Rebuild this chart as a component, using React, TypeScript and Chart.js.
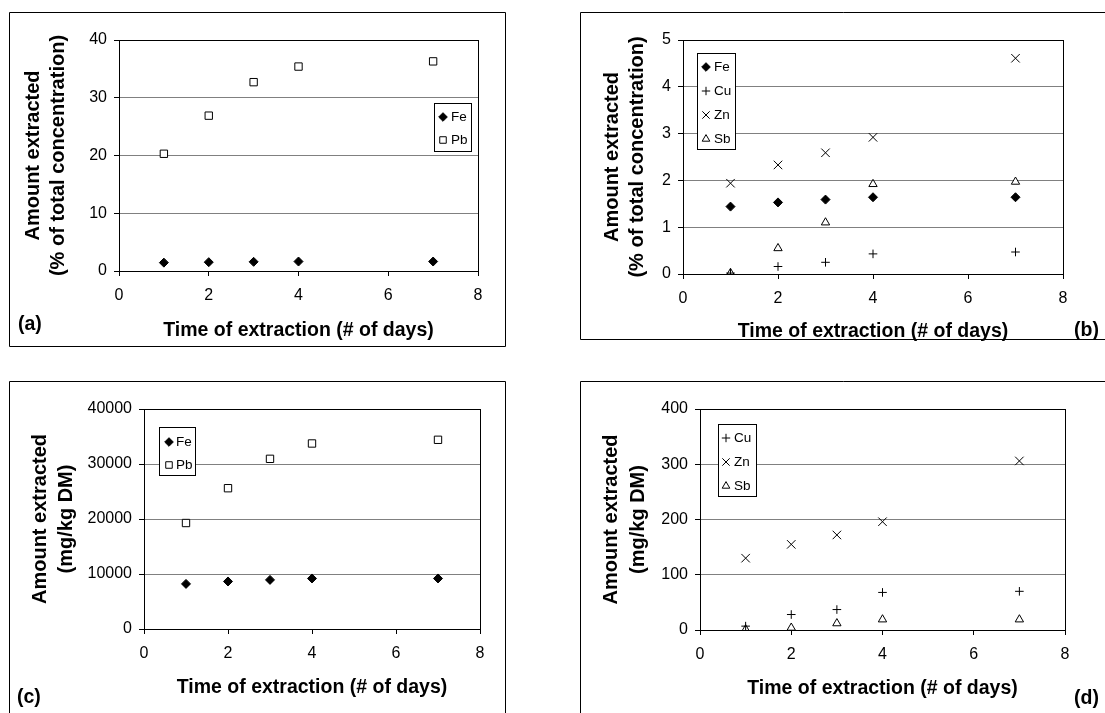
import React, { useEffect, useRef } from 'react';
import { Chart, registerables } from 'chart.js';
import { drawPoint } from 'chart.js/helpers';

Chart.register(...registerables);

const FONT = "'Liberation Sans', Arial, sans-serif";

// ---- data ----
const days = [1, 2, 3, 4, 7];
const xAxisMax = 8;
const xStep = 2;

const aFe = [1.45, 1.53, 1.59, 1.64, 1.64];
const aPb = [20.3, 26.9, 32.7, 35.4, 36.3];

const bFe = [1.44, 1.53, 1.59, 1.64, 1.64];
const bCu = [0.02, 0.16, 0.25, 0.43, 0.47];
const bZn = [1.94, 2.33, 2.59, 2.92, 4.61];
const bSb = [0.02, 0.55, 1.1, 1.92, 1.97];

const cFe = [8200, 8640, 8930, 9190, 9190];
const cPb = [19270, 25600, 30940, 33730, 34400];

const dCu = [7, 28, 37, 68, 70];
const dZn = [130, 155, 172, 196, 306];
const dSb = [1, 4, 12, 19, 19];

const yTitleA = ['Amount extracted', '(% of total concentration)'];
const yTitleC = ['Amount extracted', '(mg/kg DM)'];
const xTitle = 'Time of extraction (# of days)';

// marker styles
const STYLE: Record<string, any> = {
  Fe: { pointStyle: 'rectRot', radius: 4.5, legendRadius: 4.3, fill: '#000' },
  Pb: { pointStyle: 'rect', radius: 5.2, legendRadius: 4.6, fill: '#fff' },
  Cu: { pointStyle: 'cross', radius: 4.3, legendRadius: 4.2, fill: '#000' },
  Zn: { pointStyle: 'crossRot', radius: 6, legendRadius: 5.2, fill: '#000' },
  Sb: { pointStyle: 'triangle', radius: 4.8, legendRadius: 4.4, fill: '#fff' },
};

type Series = { label: string; values: number[] };

type Panel = {
  left: number; top: number; width: number; height: number;
  plot: { l: number; r: number; t: number; b: number };
  yMax: number; yStep: number;
  yTitle: string[]; yTitlePad: number; yTitleLH: number;
  xTitlePad: number;
  series: Series[];
  legend: { x: number; y: number; w: number; h: number; markerX: number; textX: number; itemsY: number[] };
  frame: { l: number; t: number; r: number; b: number; sides: string };
  tag: { text: string; x: number; y: number };
};

const panels: Panel[] = [
  {
    left: 0, top: 0, width: 560, height: 356,
    plot: { l: 119, r: 478, t: 40, b: 271 },
    yMax: 40, yStep: 10,
    yTitle: yTitleA, yTitlePad: 21.5, yTitleLH: 1.22,
    xTitlePad: 14,
    series: [{ label: 'Fe', values: aFe }, { label: 'Pb', values: aPb }],
    legend: { x: 434.5, y: 103.5, w: 37, h: 48, markerX: 443, textX: 451, itemsY: [117, 140] },
    frame: { l: 9.5, t: 12.5, r: 505.5, b: 346.5, sides: 'tlbr' },
    tag: { text: '(a)', x: 18, y: 325 },
  },
  {
    left: 560, top: 0, width: 545, height: 356,
    plot: { l: 123, r: 503, t: 40, b: 274 },
    yMax: 5, yStep: 1,
    yTitle: yTitleA, yTitlePad: 39.5, yTitleLH: 1.25,
    xTitlePad: 13,
    series: [
      { label: 'Fe', values: bFe },
      { label: 'Cu', values: bCu },
      { label: 'Zn', values: bZn },
      { label: 'Sb', values: bSb },
    ],
    legend: { x: 137.5, y: 53.5, w: 38, h: 96, markerX: 146, textX: 154, itemsY: [67, 91, 115, 139] },
    frame: { l: 20.5, t: 12.5, r: 600, b: 339.5, sides: 'tlb' },
    tag: { text: '(b)', x: 514, y: 331 },
  },
  {
    left: 0, top: 356, width: 560, height: 357,
    plot: { l: 144, r: 480, t: 53, b: 273 },
    yMax: 40000, yStep: 10000,
    yTitle: yTitleC, yTitlePad: 27, yTitleLH: 1.33,
    xTitlePad: 14,
    series: [{ label: 'Fe', values: cFe }, { label: 'Pb', values: cPb }],
    legend: { x: 159.5, y: 71.5, w: 36, h: 48, markerX: 169, textX: 176, itemsY: [86, 109] },
    frame: { l: 9.5, t: 25.5, r: 505.5, b: 400, sides: 'tlr' },
    tag: { text: '(c)', x: 17, y: 342 },
  },
  {
    left: 560, top: 356, width: 545, height: 357,
    plot: { l: 140, r: 505, t: 53, b: 274 },
    yMax: 400, yStep: 100,
    yTitle: yTitleC, yTitlePad: 38.5, yTitleLH: 1.33,
    xTitlePad: 12.5,
    series: [
      { label: 'Cu', values: dCu },
      { label: 'Zn', values: dZn },
      { label: 'Sb', values: dSb },
    ],
    legend: { x: 158.5, y: 68.5, w: 38, h: 72, markerX: 166, textX: 174, itemsY: [82, 106, 130] },
    frame: { l: 20.5, t: 25.5, r: 600, b: 400, sides: 'tl' },
    tag: { text: '(d)', x: 514, y: 343 },
  },
];

function makeDecor(p: Panel) {
  return {
    id: 'decor',
    afterDraw(chart: any) {
      const ctx = chart.ctx as CanvasRenderingContext2D;
      ctx.save();
      // outer frame
      ctx.strokeStyle = '#000';
      ctx.lineWidth = 1;
      const f = p.frame;
      ctx.beginPath();
      if (f.sides.includes('t')) { ctx.moveTo(f.l, f.t); ctx.lineTo(f.r, f.t); }
      if (f.sides.includes('l')) { ctx.moveTo(f.l, f.t); ctx.lineTo(f.l, f.b); }
      if (f.sides.includes('b')) { ctx.moveTo(f.l, f.b); ctx.lineTo(f.r, f.b); }
      if (f.sides.includes('r')) { ctx.moveTo(f.r, f.t); ctx.lineTo(f.r, f.b); }
      ctx.stroke();

      // legend
      const L = p.legend;
      ctx.fillStyle = '#fff';
      ctx.fillRect(L.x, L.y, L.w, L.h);
      ctx.strokeStyle = '#000';
      ctx.strokeRect(L.x, L.y, L.w, L.h);
      chart.data.datasets.forEach((ds: any, i: number) => {
        const st = STYLE[ds.label];
        const y = L.itemsY[i];
        ctx.fillStyle = st.fill;
        ctx.strokeStyle = '#000';
        ctx.lineWidth = 1;
        drawPoint(ctx, { pointStyle: st.pointStyle, radius: st.legendRadius, rotation: 0, borderWidth: 1 } as any, L.markerX, y);
        ctx.fillStyle = '#000';
        ctx.font = `13.5px ${FONT}`;
        ctx.textAlign = 'left';
        ctx.textBaseline = 'middle';
        ctx.fillText(ds.label, L.textX, y + 0.5);
      });

      // panel tag
      ctx.fillStyle = '#000';
      ctx.font = `bold 19.5px ${FONT}`;
      ctx.textAlign = 'left';
      ctx.textBaseline = 'middle';
      ctx.fillText(p.tag.text, p.tag.x, p.tag.y);
      ctx.restore();
    },
  };
}

function PanelChart({ p }: { p: Panel }) {
  const ref = useRef<HTMLCanvasElement | null>(null);
  useEffect(() => {
    if (!ref.current) return;
    const yWidth = p.plot.l;
    const xHeight = p.height - p.plot.b;
    const chart = new Chart(ref.current, {
      type: 'scatter',
      data: {
        datasets: p.series.map((s) => {
          const st = STYLE[s.label];
          return {
            label: s.label,
            data: days.map((d, i) => ({ x: d, y: s.values[i] })),
            pointStyle: st.pointStyle,
            pointRadius: st.radius,
            pointHoverRadius: st.radius,
            pointBackgroundColor: st.fill,
            pointBorderColor: '#000',
            pointBorderWidth: 1,
            showLine: false,
          };
        }),
      },
      options: {
        animation: false,
        responsive: false,
        maintainAspectRatio: false,
        devicePixelRatio: 1,
        layout: { padding: { left: 0, top: p.plot.t, right: p.width - p.plot.r, bottom: 0 } },
        plugins: { legend: { display: false }, tooltip: { enabled: false } },
        scales: {
          x: {
            type: 'linear',
            min: 0,
            max: xAxisMax,
            ticks: { stepSize: xStep, padding: 10, color: '#000', font: { family: FONT, size: 16 } },
            grid: {
              color: (c: any) => (c.tick && c.tick.value === xAxisMax ? '#000' : 'rgba(0,0,0,0)'),
              tickColor: '#000',
              tickLength: 5,
              lineWidth: 1,
            },
            border: { color: '#000', width: 1 },
            title: {
              display: true,
              text: xTitle,
              color: '#000',
              font: { family: FONT, size: 19.5, weight: 'bold', lineHeight: 1.2 },
              padding: { top: 0, bottom: p.xTitlePad },
            },
            afterFit: (s: any) => { s.height = xHeight; },
          },
          y: {
            min: 0,
            max: p.yMax,
            ticks: {
              stepSize: p.yStep,
              padding: 7,
              color: '#000',
              font: { family: FONT, size: 16 },
              callback: (v: any) => String(v),
            },
            grid: {
              color: (c: any) => (c.tick && (c.tick.value === p.yMax || c.tick.value === 0) ? '#000' : '#808080'),
              tickColor: '#000',
              tickLength: 5,
              lineWidth: 1,
            },
            border: { color: '#000', width: 1 },
            title: {
              display: true,
              text: p.yTitle,
              color: '#000',
              font: { family: FONT, size: 20, weight: 'bold', lineHeight: p.yTitleLH },
              padding: { top: p.yTitlePad, bottom: 0 },
            },
            afterFit: (s: any) => { s.width = yWidth; },
          },
        },
      } as any,
      plugins: [makeDecor(p)],
    });
    return () => chart.destroy();
  }, [p]);
  return (
    <canvas
      ref={ref}
      width={p.width}
      height={p.height}
      style={{ position: 'absolute', left: p.left, top: p.top, width: p.width, height: p.height }}
    />
  );
}

export default function App() {
  return (
    <div style={{ position: 'fixed', left: 0, top: 0, width: 1105, height: 713, background: '#fff', overflow: 'hidden' }}>
      {panels.map((p, i) => (
        <PanelChart key={i} p={p} />
      ))}
    </div>
  );
}
